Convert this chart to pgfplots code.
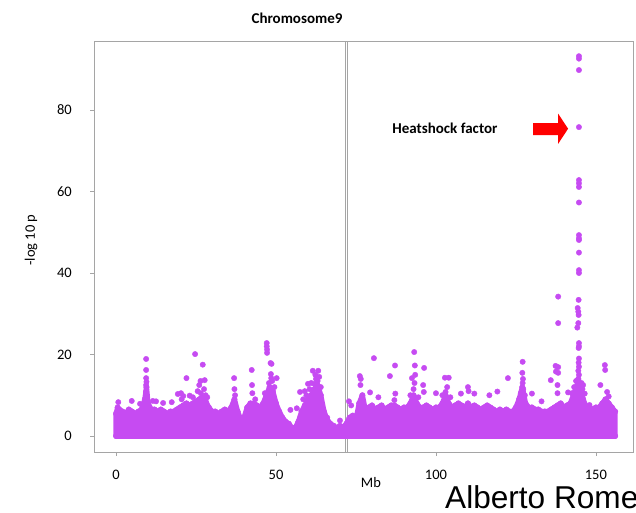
\documentclass[border=0pt]{standalone}
\usepackage{fontspec}
\setmainfont{Carlito}
\newfontfamily\arialfont{Liberation Sans}
\usepackage{pgfplots}
\usepackage{pgfplotstable}
\pgfplotsset{compat=1.18}
\definecolor{purp}{RGB}{198,75,242}
\definecolor{axgray}{RGB}{165,165,165}

\pgfplotstableread{
x y
0 0
0 5.5
0.5 7
1 6.5
2 6
3 5.5
4 6.5
5 6
6 5.5
7 6
8 6.5
9 9
9.5 12
10 8
11 6.5
12 6.5
13 6
14 6.5
15 6
16 5.5
17 6
18 6
19 6.5
20 7
21 7.5
22 8
23 7.5
24 8
25 8.5
26 9
27 9.5
28 8.5
29 7
30 6
31 6
32 5.5
33 6
34 6.5
35 6
36 7
37 9
38 6
39 4
40 4.5
41 7
42 8
43 8
44 7.5
45 7
46 8
47 10
48 12
49 11
50 8
51 6
52 4.5
53 3.5
54 3
55 2
56 2
57 3.5
58 6
59 7.5
60 9
61 10
62 11.5
63 12.5
64 10
65 6
66 4
67 3
68 2.5
69 2
70 2.5
71 2
72 3
73 4.5
74 5
75 4
76 8
77 10
78 6
79 7
80 7.5
81 6.5
82 7
83 7.5
84 6.5
85 7
86 7.5
87 7.5
88 7
89 6.5
90 7
91 7
92 8
93 10
94 8
95 7
96 7
97 7.5
98 7
99 6.5
100 7
101 7
102 8
103 10
104 8
105 7
106 7.5
107 8
108 7.5
109 7
110 8
111 7
112 7.5
113 7
114 6.5
115 7
116 7.5
117 7
118 6.5
119 6
120 6.5
121 6
122 6.5
123 6
124 6
125 7
126 9
127 12
128 8
129 7
130 7
131 6.5
132 6.5
133 6
134 6
135 6
136 6.5
137 7
138 7.5
139 8
140 7
141 7.5
142 8
143 10
144 12
144.5 14
145 12
146 9
147 7
148 7
149 6.5
150 7
151 7
152 8
153 9
154 8
155 7
156 6
156 0
}\envelope

\pgfplotstableread{
x y
0.7 8.3
4.9 8.6
7.5 7.9
9.4 18.9
9.4 16.2
9.4 14.2
9.5 13.3
9.4 12.5
9.3 10.8
9.6 9.5
11.5 8.6
12.5 8.5
14.7 8.1
17.4 8.3
19.3 10.3
20.3 10.5
20.5 9
21 9.8
22 14.2
23 9.9
24 9.5
24.7 20.1
25.5 11
26 12.5
26.4 13.5
26.5 10.5
27.1 17.5
27.7 13.7
27.5 11.5
28 10
28.5 9.5
36.9 14.2
37 11.5
37.2 10
42.4 16.2
42.5 12.5
42.6 10.5
43.5 9
46.5 10.5
47.1 22.8
47.1 22
47.2 21.2
47.2 20.4
48.3 17.9
48.6 17.7
48.4 15.2
48.5 14.2
47.8 13
48.2 11.5
48.8 13.5
49.5 12
50.2 14.2
54.5 6.4
56.5 6.8
57.5 10.8
58.5 9
59 11
59.5 10
60 12.8
60.5 11.5
61 13
61.5 16
62 12.8
62.3 15
62.5 14
63 13.5
63.2 16
63.5 14.5
64 12
66 4.5
70 3.8
72.8 8.5
73.5 7.5
76.2 14.7
76.5 14
76.4 12.5
79.4 10.7
80.6 19.1
82 9.5
85.6 14.7
87.2 17.3
87.3 10.4
87 8.8
92 10
92.5 14.2
93.2 20.6
93.4 17.3
93.5 15
93.3 13
93 11.5
94.5 9.5
96.3 16.7
96 12.5
96.2 10.8
100 10.5
102 10
102.8 14.3
104 14.3
103.5 12
103 10.8
104.5 9.5
107.8 10.4
110 12
110.2 11
112 10.4
116.7 10
119.2 10.9
122.5 14.2
126.5 10.5
127.1 18.2
127 15.5
127.2 14
127.1 13
127.3 11.5
127.8 10
130 10.4
133 8.5
135.9 13.7
137.4 17.2
137.5 15.8
138 12.5
138.2 34.2
138.2 27.7
138.2 16.9
138.2 15.5
138 10.5
141.3 10.7
142.5 10.5
143.2 12
143.5 11
144.7 93.2
144.7 92.6
144.7 89.8
144.7 75.8
144.7 62.8
144.7 62
144.7 61.1
144.7 57.3
144.7 49.3
144.7 48.5
144.7 48.1
144.7 45
144.7 40.7
144.7 40
144.6 33.4
144.3 31.4
144.5 30.5
144.6 29.7
144.5 27.7
144.2 26.6
144.7 22.8
144.7 22
144.6 21.6
144.7 19
144.6 18
144.7 17
144.5 16
144.7 15
143.8 13.5
145.5 13
145.8 11.5
146 12.5
146.5 10.4
148 7.6
151.4 12.5
152.8 17.4
152.9 16.2
153.5 10.8
154 9.7
}\outliers

\begin{document}
\begin{tikzpicture}
\useasboundingbox (-94pt,-60pt) rectangle (542pt,452pt);
\begin{axis}[scale only axis,
  width=539pt, height=411pt,
  xmin=-6.9, xmax=161.6, ymin=-3.93, ymax=96.93,
  xtick={0,50,100,150}, ytick={0,20,40,60,80},
  xtick pos=left, ytick pos=left,
  tick align=outside, major tick length=4pt,
  tick style={axgray, line width=0.6pt},
  axis line style={axgray, line width=0.8pt},
  /pgf/number format/assume math mode=true,
  ticklabel style={font=\fontsize{14.5}{17}\selectfont},
  xticklabel style={anchor=north, inner sep=0pt, yshift=-14pt},
  yticklabel style={anchor=east, inner sep=0pt, xshift=-18pt},
  clip=true]
% centromere
\addplot[axgray, line width=0.7pt] coordinates {(71.6,-3.93) (71.6,96.93)};
\addplot[axgray, line width=0.7pt] coordinates {(72.3,-3.93) (72.3,96.93)};
% dense mass of points
\addplot[fill=purp, draw=none] table {\envelope} \closedcycle;
\addplot[purp, line width=5.2pt, line cap=round, line join=round] table {\envelope};
\addplot[purp, line width=5.2pt, line cap=round] coordinates {(0,0) (156,0)};
\addplot[only marks, mark=*, mark size=2.8pt, purp, mark options={draw=none}] table {\envelope};
% individual points
\addplot[only marks, mark=*, mark size=2.7pt, purp, mark options={draw=none}] table {\outliers};
% annotation
\fill[red] (axis cs:130.4,73.8) -- (axis cs:138.2,73.8) -- (axis cs:138.2,71.7)
  -- (axis cs:141.3,75.4) -- (axis cs:138.2,79.1) -- (axis cs:138.2,76.8)
  -- (axis cs:130.4,76.8) -- cycle;
\node[font=\bfseries\fontsize{15}{18}\selectfont] at (axis cs:102.8,75.6) {Heatshock factor};
\end{axis}
\node[font=\bfseries\fontsize{15}{18}\selectfont] at (203pt,434pt) {Chromosome9};
\node[rotate=90, font=\fontsize{14.5}{17}\selectfont] at (-63pt,212pt) {-log 10 p};
\node[font=\fontsize{14.5}{17}\selectfont] at (277pt,-30.5pt) {Mb};
\node[anchor=base west, inner sep=0pt, font=\arialfont\fontsize{31.6}{36}\selectfont] at (351pt,-56.3pt) {Alberto Rome};
\end{tikzpicture}
\end{document}
